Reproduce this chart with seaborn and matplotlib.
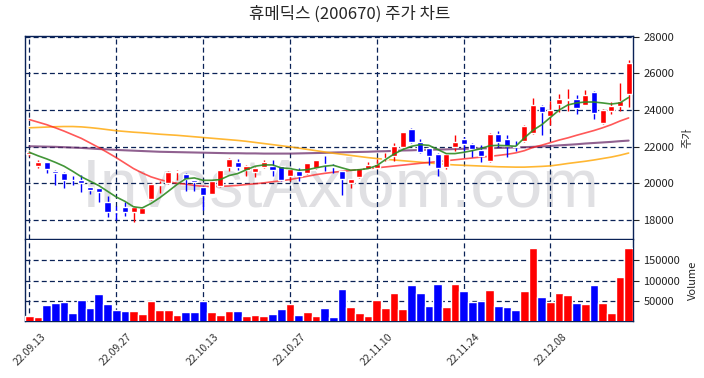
import numpy as np
import pandas as pd
import matplotlib
matplotlib.use("Agg")
import matplotlib.pyplot as plt
import seaborn as sns

sns.set_style("white")
plt.rcParams['font.family'] = ['Noto Sans CJK KR', 'DejaVu Sans']

# trading days 2022-09-13 .. 2022-12-21 (KRX)
dates = pd.to_datetime([
    "2022-09-13", "2022-09-14", "2022-09-15", "2022-09-16", "2022-09-19", "2022-09-20", "2022-09-21",
    "2022-09-22", "2022-09-23", "2022-09-26", "2022-09-27", "2022-09-28", "2022-09-29", "2022-09-30",
    "2022-10-04", "2022-10-05", "2022-10-06", "2022-10-07", "2022-10-11", "2022-10-12", "2022-10-13",
    "2022-10-14", "2022-10-17", "2022-10-18", "2022-10-19", "2022-10-20", "2022-10-21", "2022-10-24",
    "2022-10-25", "2022-10-26", "2022-10-27", "2022-10-28", "2022-10-31", "2022-11-01", "2022-11-02",
    "2022-11-03", "2022-11-04", "2022-11-07", "2022-11-08", "2022-11-09", "2022-11-10", "2022-11-11",
    "2022-11-14", "2022-11-15", "2022-11-16", "2022-11-17", "2022-11-18", "2022-11-21", "2022-11-22",
    "2022-11-23", "2022-11-24", "2022-11-25", "2022-11-28", "2022-11-29", "2022-11-30", "2022-12-01",
    "2022-12-02", "2022-12-05", "2022-12-06", "2022-12-07", "2022-12-08", "2022-12-09", "2022-12-12",
    "2022-12-13", "2022-12-14", "2022-12-15", "2022-12-16", "2022-12-19", "2022-12-20", "2022-12-21"])

open_ = [21600, 20950, 21150, 20650, 20550, 20200, 20150, 19800, 19750, 19000,
         18500, 18700, 18400, 18300, 19150, 19900, 20000, 20600, 20500, 20200,
         19800, 19400, 19850, 20900, 21150, 20700, 20600, 20900, 20950, 20950,
         20400, 20650, 20550, 20850, 21050, 20950, 20650, 20000, 20350, 20800,
         20850, 21300, 21500, 22000, 22950, 22250, 21900, 21600, 20900, 22000,
         22400, 22150, 21800, 21200, 22700, 22400, 22050, 22300, 22750, 24200,
         23700, 24350, 24550, 24600, 24300, 25000, 23300, 23950, 24200, 24900]
close = [21700, 21150, 20800, 20550, 20150, 20150, 20000, 19650, 19500, 18450,
         18450, 18400, 18700, 18650, 19950, 19960, 20600, 20650, 20250, 20050,
         19350, 20100, 20750, 21350, 20900, 20950, 20850, 21150, 20700, 20150,
         20800, 20400, 21100, 21250, 21000, 20900, 20250, 20250, 20850, 20980,
         21070, 21400, 22050, 22800, 22250, 21700, 21500, 20850, 21600, 22250,
         22150, 21850, 21500, 22700, 22250, 22050, 22000, 23150, 24300, 23900,
         24000, 24600, 24600, 24100, 24850, 23850, 24000, 24200, 24500, 26600]
high = [21750, 21250, 21150, 20700, 20600, 20400, 20450, 19800, 19750, 19300,
        18750, 19000, 18750, 18700, 20000, 20100, 20650, 20700, 20550, 20200,
        19850, 20200, 20750, 21400, 21300, 21000, 20900, 21250, 21250, 20950,
        20800, 20850, 21100, 21250, 21500, 21050, 20650, 20250, 20850, 21150,
        21300, 21650, 22200, 22800, 23000, 22400, 21950, 21650, 21650, 22650,
        22550, 22200, 22100, 22750, 22850, 22650, 22300, 23200, 24650, 24300,
        24500, 24900, 25150, 24800, 25100, 25050, 24050, 24450, 25500, 26750]
low = [21500, 20850, 20550, 19900, 19750, 19900, 19500, 19400, 18950, 18150,
       18000, 18200, 17900, 18300, 19100, 19450, 19950, 20200, 19550, 19550,
       18550, 19400, 19800, 20650, 20750, 20400, 20350, 20850, 20400, 20100,
       20100, 20100, 20500, 20800, 20650, 20550, 19380, 19750, 20300, 20780,
       20800, 21200, 21200, 21950, 22200, 21650, 21000, 20400, 20800, 21750,
       21700, 21450, 21150, 21150, 21980, 21450, 21750, 22250, 22700, 22650,
       23200, 23900, 23950, 23800, 24250, 23500, 23250, 23800, 23950, 24150]
volume = [15000, 12600, 41200, 46000, 49000, 22200, 53000, 34000, 67400, 43600,
          29300, 26900, 26900, 19800, 50700, 29300, 29300, 17400, 24600, 24600,
          50700, 24600, 17400, 26900, 26900, 15000, 17400, 15000, 19800, 31700,
          43600, 17400, 24600, 15000, 34000, 12600, 79300, 36400, 22200, 15000,
          53000, 34000, 69800, 31700, 88800, 69800, 38800, 91200, 36400, 91200,
          74600, 48300, 50700, 77000, 38800, 36400, 29300, 74600, 179000, 60000,
          48300, 69800, 65000, 46000, 43600, 88800, 46000, 22200, 110000, 179000]

ma5 = [21690, 21500, 21330, 21140, 20930, 20650, 20350, 20110, 19870, 19560,
       19250, 19010, 18710, 18650, 18890, 19200, 19560, 19930, 20240, 20290,
       20160, 20160, 20200, 20420, 20530, 20740, 20930, 21000, 21000, 20840,
       20800, 20710, 20740, 20840, 20930, 20980, 20840, 20710, 20740, 20800,
       20960, 21290, 21600, 21840, 22020, 22110, 22070, 21850, 21620, 21620,
       21690, 21780, 21890, 22050, 22070, 22050, 22020, 22480, 22900, 23200,
       23600, 24000, 24280, 24390, 24440, 24440, 24390, 24330, 24390, 24690]
ma20 = [23480, 23340, 23200, 23030, 22850, 22650, 22450, 22200, 21950, 21680,
        21400, 21100, 20800, 20560, 20350, 20200, 20080, 20000, 19950, 19880,
        19830, 19820, 19830, 19850, 19880, 19930, 19970, 20020, 20080, 20140,
        20200, 20290, 20380, 20470, 20540, 20600, 20650, 20700, 20750, 20800,
        20840, 20890, 20940, 20990, 21040, 21090, 21140, 21180, 21230, 21280,
        21330, 21380, 21430, 21470, 21520, 21580, 21660, 21780, 21960, 22080,
        22220, 22360, 22480, 22620, 22750, 22880, 23030, 23200, 23400, 23570]
ma60 = [23030, 23050, 23070, 23090, 23100, 23100, 23080, 23040, 22990, 22930,
        22870, 22830, 22790, 22760, 22720, 22680, 22650, 22620, 22580, 22540,
        22500, 22460, 22420, 22380, 22340, 22290, 22230, 22170, 22110, 22050,
        21990, 21920, 21850, 21780, 21710, 21640, 21580, 21520, 21460, 21400,
        21350, 21310, 21270, 21230, 21190, 21150, 21110, 21070, 21030, 21000,
        20980, 20960, 20940, 20920, 20900, 20890, 20880, 20880, 20900, 20920,
        20950, 21010, 21080, 21140, 21200, 21270, 21350, 21430, 21530, 21650]
ma120 = [22020, 22010, 22000, 21990, 21970, 21950, 21930, 21900, 21870, 21850,
         21820, 21800, 21780, 21760, 21740, 21720, 21710, 21700, 21690, 21680,
         21670, 21660, 21650, 21640, 21640, 21630, 21630, 21620, 21620, 21620,
         21620, 21630, 21640, 21650, 21660, 21680, 21690, 21700, 21710, 21720,
         21740, 21750, 21770, 21790, 21800, 21820, 21830, 21840, 21850, 21870,
         21880, 21890, 21900, 21910, 21930, 21940, 21960, 21970, 21990, 22010,
         22040, 22070, 22100, 22130, 22170, 22200, 22230, 22260, 22300, 22330]

df = pd.DataFrame({"date": dates, "open": open_, "close": close, "high": high,
                   "low": low, "volume": volume, "ma5": ma5, "ma20": ma20,
                   "ma60": ma60, "ma120": ma120})
df["idx"] = np.arange(len(df))
df["color"] = np.where(df.close >= df.open, "#ff0000", "#0000ff")

navy = "#0a2257"
fig = plt.figure(figsize=(7.04, 3.78), dpi=100)
ax = fig.add_axes([0.0355, 0.3677, 0.8636, 0.5371])
axv = fig.add_axes([0.0355, 0.1508, 0.8636, 0.2143], sharex=ax)

# watermark
ax.text(0.52, 0.25, "InvestAxiom.com", transform=ax.transAxes, ha="center", va="center",
        fontsize=49, color="#e0e0e3", family="Liberation Sans", zorder=0)

# moving averages
sns.lineplot(x="idx", y="ma120", data=df, ax=ax, color="#6b2c6b", alpha=0.75, lw=1.5, zorder=2)
sns.lineplot(x="idx", y="ma60", data=df, ax=ax, color="#ffa500", alpha=0.8, lw=1.2, zorder=2)
sns.lineplot(x="idx", y="ma20", data=df, ax=ax, color="#ff2020", alpha=0.75, lw=1.2, zorder=2)
sns.lineplot(x="idx", y="ma5", data=df, ax=ax, color="#2e8b22", alpha=0.9, lw=1.2, zorder=4)

# candles
ax.vlines(df.idx, df.low, df.high, colors=df.color, lw=1, zorder=3)
body = (df.close - df.open).abs().clip(lower=30)
ax.bar(df.idx, body, bottom=df[["open", "close"]].min(axis=1), width=0.7,
       color=df.color, zorder=3)

# volume
axv.bar(df.idx, df.volume, width=1.0, color=df.color, zorder=3)

ticks = list(range(0, len(df), 10))
for a in (ax, axv):
    a.grid(True, color=navy, ls=(0, (4, 2.5)), lw=0.9)
    for s in a.spines.values():
        s.set_color(navy)
        s.set_linewidth(1.0)
    a.yaxis.tick_right()
    a.yaxis.set_label_position("right")
    a.tick_params(axis="y", colors="#222222", labelsize=8, length=4, color="#222222")
    a.set_xlabel("")
axv.spines["top"].set_visible(False)

ax.set_xlim(-0.5, len(df) - 0.5)
ax.set_ylim(16950, 28050)
ax.set_yticks(range(18000, 28001, 2000))
ax.set_ylabel("주가", fontsize=8, labelpad=6)
ax.tick_params(axis="x", labelbottom=False, length=0)

axv.set_ylim(3000, 198000)
axv.set_yticks([50000, 100000, 150000])
axv.set_ylabel("Volume", fontsize=8, labelpad=6)
axv.set_xticks(ticks)
axv.set_xticklabels([d.strftime("%y.%m.%d") for d in df.date.iloc[ticks]],
                    rotation=45, fontsize=7.5, color="#333333")
axv.tick_params(axis="x", length=4, color="#222222")

fig.suptitle("휴메딕스 (200670) 주가 차트", x=0.497, y=0.985, fontsize=12)
fig.savefig("out.png", dpi=100)
